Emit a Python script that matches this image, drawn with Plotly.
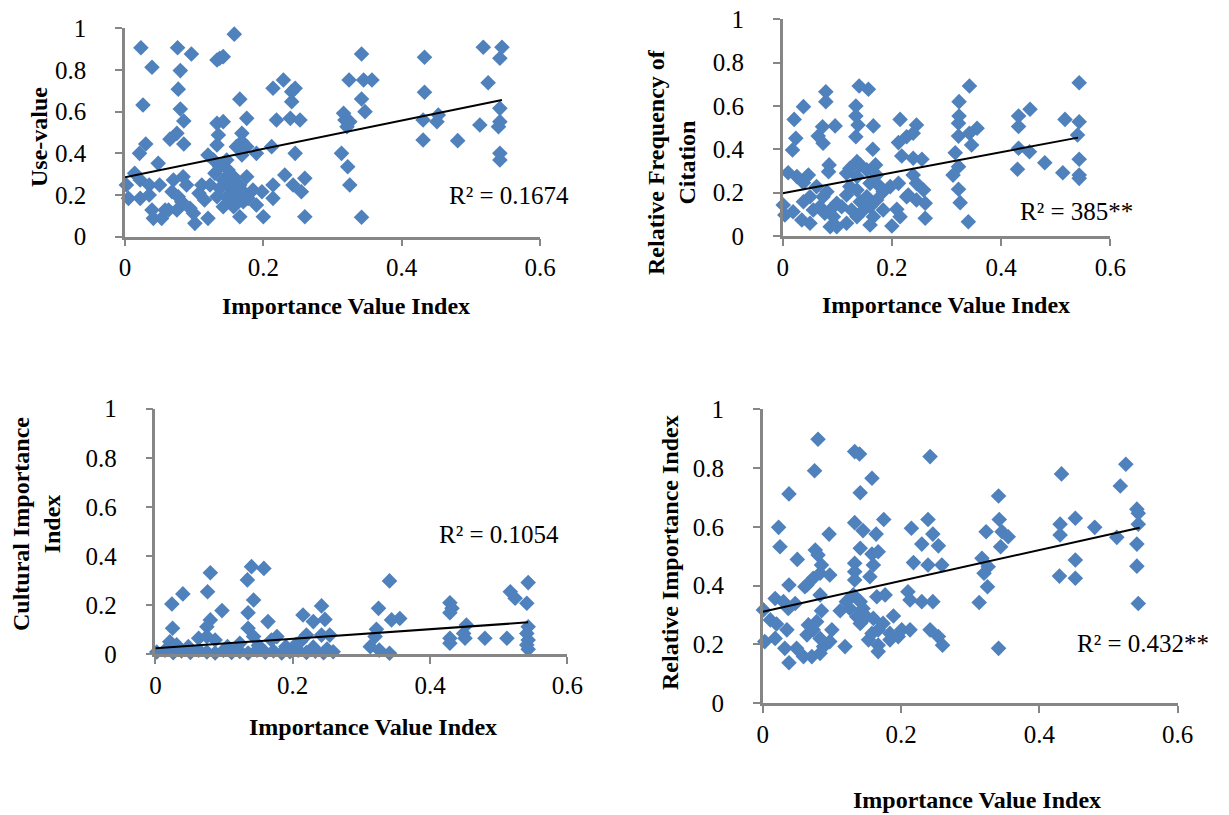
import plotly.graph_objects as go

# ---------------- data ----------------
# Panel 1: Use-value vs Importance Value Index
uv_ivi = [0.023,0.039,0.026,0.076,0.096,0.080,0.077,0.080,0.085,0.075,0.065,0.085,0.030,0.021,0.014,0.002,0.005,0.022,0.022,0.035,
          0.035,0.048,0.050,0.039,0.041,0.053,0.058,0.070,0.068,0.063,0.075,0.077,0.084,0.089,0.082,0.094,0.099,0.101,0.111,0.123,
          0.120,0.120,0.133,0.142,0.135,0.133,0.137,0.133,0.142,0.158,0.166,0.176,0.169,0.169,0.161,0.176,0.190,0.169,0.128,0.137,
          0.147,0.149,0.130,0.142,0.157,0.176,0.137,0.152,0.166,0.133,0.147,0.161,0.171,0.185,0.198,0.142,0.157,0.171,0.166,0.200,
          0.212,0.214,0.214,0.231,0.219,0.214,0.229,0.241,0.246,0.241,0.239,0.253,0.246,0.243,0.255,0.260,0.260,
          0.107,0.115,0.150,0.178,0.190,
          0.342,0.324,0.345,0.357,0.342,0.347,0.316,0.318,0.325,0.321,0.313,0.322,0.325,0.342,0.433,0.433,0.431,0.453,0.451,0.431,
          0.481,0.518,0.545,0.542,0.525,0.513,0.542,0.542,0.540,0.542,0.542]
uv_val = [0.907,0.813,0.632,0.907,0.877,0.797,0.708,0.613,0.555,0.496,0.468,0.445,0.445,0.400,0.304,0.248,0.184,0.272,0.184,0.248,
          0.200,0.352,0.248,0.128,0.088,0.088,0.128,0.272,0.216,0.128,0.128,0.192,0.288,0.248,0.168,0.136,0.112,0.064,0.248,0.248,
          0.088,0.392,0.544,0.552,0.488,0.440,0.856,0.848,0.864,0.972,0.660,0.568,0.496,0.456,0.432,0.432,0.400,0.392,0.368,0.336,
          0.368,0.320,0.304,0.272,0.288,0.288,0.232,0.240,0.248,0.192,0.192,0.200,0.216,0.224,0.216,0.144,0.144,0.168,0.096,0.096,
          0.432,0.248,0.184,0.296,0.560,0.712,0.752,0.696,0.712,0.648,0.568,0.560,0.400,0.248,0.216,0.280,0.096,
          0.208,0.176,0.168,0.184,0.152,
          0.877,0.752,0.752,0.752,0.661,0.600,0.592,0.560,0.552,0.528,0.400,0.336,0.248,0.093,0.861,0.693,0.560,0.584,0.552,0.464,
          0.461,0.909,0.909,0.856,0.739,0.536,0.616,0.552,0.528,0.400,0.368]

# Panel 2: Relative Frequency of Citation vs IVI
rfc_ivi = [0.140,0.157,0.079,0.079,0.038,0.134,0.134,0.021,0.215,0.073,0.096,0.138,0.166,0.245,0.065,0.024,0.134,0.227,0.239,0.074,
           0.212,0.018,0.165,0.218,0.239,0.255,0.085,0.084,0.136,0.170,0.142,0.010,0.026,0.047,0.038,0.117,0.123,0.154,0.172,0.239,
           0.212,0.245,0.258,0.062,0.050,0.038,0.074,0.081,0.123,0.136,0.160,0.178,0.197,0.184,0.227,0.001,0.004,0.019,0.035,0.050,
           0.056,0.068,0.077,0.087,0.093,0.087,0.099,0.108,0.117,0.126,0.136,0.142,0.148,0.154,0.160,0.166,0.160,0.172,0.184,0.200,
           0.209,0.215,0.230,0.245,0.261,0.261,0.117,0.099,0.136,
           0.342,0.323,0.323,0.322,0.322,0.342,0.356,0.346,0.316,0.322,0.312,0.322,0.325,0.340,0.453,0.432,0.432,0.432,0.452,0.430,
           0.480,0.513,0.517,0.543,0.543,0.540,0.543,0.543,0.543]
rfc_val = [0.692,0.677,0.666,0.620,0.597,0.600,0.554,0.538,0.538,0.504,0.508,0.512,0.508,0.512,0.461,0.451,0.458,0.458,0.474,0.428,
           0.431,0.397,0.400,0.369,0.359,0.354,0.328,0.297,0.343,0.328,0.328,0.292,0.274,0.281,0.246,0.289,0.312,0.305,0.281,0.281,
           0.243,0.243,0.212,0.228,0.181,0.158,0.181,0.204,0.228,0.212,0.243,0.228,0.228,0.204,0.181,0.143,0.097,0.112,0.074,0.059,
           0.120,0.135,0.105,0.120,0.089,0.043,0.043,0.135,0.059,0.120,0.089,0.158,0.120,0.181,0.135,0.089,0.051,0.166,0.120,0.046,
           0.123,0.089,0.189,0.166,0.151,0.082,0.189,0.151,0.274,
           0.692,0.620,0.554,0.520,0.461,0.474,0.497,0.420,0.384,0.320,0.281,0.216,0.154,0.066,0.585,0.554,0.505,0.405,0.389,0.308,
           0.338,0.292,0.538,0.707,0.527,0.466,0.354,0.281,0.266]

# Panel 3: Cultural Importance Index vs IVI
cii_ivi = [0.080,0.040,0.024,0.076,0.025,0.097,0.080,0.075,0.063,0.075,0.087,0.021,0.031,0.048,0.140,0.158,0.134,0.143,0.135,0.164,
           0.135,0.143,0.177,0.169,0.123,0.215,0.230,0.242,0.247,0.220,0.242,0.254,0.211,
           0.002,0.014,0.026,0.038,0.051,0.063,0.075,0.087,0.099,0.111,0.123,0.135,0.148,0.160,0.172,0.184,0.196,0.208,0.220,0.233,
           0.245,0.259,0.105,0.118,0.150,0.190,0.205,0.230,0.250,
           0.341,0.325,0.344,0.356,0.322,0.320,0.313,0.326,0.341,0.429,0.432,0.429,0.453,0.449,0.451,0.429,0.429,0.480,0.512,0.517,
           0.524,0.543,0.541,0.543,0.541,0.543,0.541,0.543]
cii_val = [0.331,0.245,0.204,0.254,0.105,0.177,0.139,0.111,0.064,0.071,0.057,0.050,0.037,0.030,0.356,0.349,0.302,0.220,0.168,0.132,
           0.105,0.071,0.071,0.057,0.044,0.159,0.132,0.196,0.141,0.077,0.077,0.077,0.050,
           0.008,0.015,0.005,0.012,0.006,0.016,0.008,0.004,0.014,0.006,0.010,0.004,0.016,0.007,0.012,0.004,0.009,0.015,0.006,0.011,
           0.005,0.009,0.030,0.022,0.035,0.030,0.040,0.028,0.020,
           0.298,0.186,0.139,0.145,0.101,0.071,0.030,0.016,0.003,0.209,0.186,0.168,0.118,0.084,0.064,0.064,0.044,0.064,0.064,0.254,
           0.227,0.291,0.207,0.111,0.084,0.057,0.037,0.019]

# Panel 4: Relative Importance Index vs IVI
rii_ivi = [0.080,0.075,0.038,0.133,0.140,0.158,0.141,0.242,0.023,0.025,0.096,0.133,0.145,0.175,0.164,0.141,0.215,0.239,0.246,0.230,
           0.254,0.050,0.076,0.080,0.085,0.083,0.097,0.073,0.064,0.038,0.133,0.133,0.133,0.158,0.167,0.160,0.155,0.218,0.239,0.259,
           0.018,0.030,0.037,0.047,0.001,0.011,0.020,0.003,0.018,0.035,0.032,0.038,0.049,0.059,0.071,0.083,0.088,0.097,0.064,0.073,
           0.083,0.066,0.078,0.085,0.083,0.100,0.061,0.119,0.112,0.121,0.126,0.131,0.136,0.141,0.145,0.141,0.150,0.153,0.160,0.165,
           0.177,0.167,0.174,0.167,0.167,0.158,0.189,0.184,0.184,0.196,0.201,0.213,0.210,0.213,0.230,0.246,0.242,0.254,0.260,
           0.341,0.342,0.323,0.346,0.355,0.344,0.317,0.326,0.320,0.325,0.313,0.341,0.432,0.430,0.452,0.430,0.480,0.452,0.429,0.452,
           0.512,0.517,0.525,0.541,0.543,0.543,0.541,0.541,0.543]
rii_val = [0.898,0.791,0.712,0.856,0.848,0.765,0.716,0.839,0.598,0.532,0.575,0.614,0.587,0.625,0.575,0.527,0.595,0.625,0.575,0.541,
           0.535,0.489,0.521,0.504,0.470,0.442,0.436,0.425,0.402,0.402,0.476,0.447,0.419,0.507,0.515,0.470,0.430,0.478,0.470,0.470,
           0.356,0.345,0.322,0.339,0.317,0.283,0.269,0.209,0.220,0.249,0.186,0.137,0.186,0.158,0.158,0.169,0.192,0.209,0.232,0.249,
           0.220,0.266,0.277,0.314,0.368,0.249,0.396,0.192,0.314,0.345,0.322,0.368,0.294,0.345,0.322,0.271,0.294,0.215,0.288,0.362,
           0.368,0.249,0.271,0.197,0.175,0.237,0.296,0.237,0.215,0.226,0.249,0.249,0.379,0.351,0.345,0.345,0.249,0.226,0.197,
           0.705,0.625,0.583,0.583,0.566,0.532,0.493,0.464,0.442,0.396,0.342,0.186,0.780,0.609,0.629,0.572,0.598,0.487,0.432,0.425,
           0.564,0.739,0.813,0.660,0.646,0.609,0.541,0.466,0.339]

# trend lines (end points)
uv_trend_x, uv_trend_y = [0.0, 0.545], [0.285, 0.656]
rfc_trend_x, rfc_trend_y = [0.0, 0.541], [0.197, 0.454]
cii_trend_x, cii_trend_y = [0.0, 0.543], [0.023, 0.129]
rii_trend_x, rii_trend_y = [0.0, 0.545], [0.311, 0.597]

r2_labels = ["R² = 0.1674", "R² = 385**", "R² = 0.1054", "R² = 0.432**"]
y_titles = ["Use-value", "Relative Frequency of<br>Citation", "Cultural Importance<br>Index", "Relative Importance Index"]
x_title = "Importance Value Index"

# ---------------- layout helpers ----------------
# the page body has an 8 px margin, so the figure is drawn 8 px in from the window corner
OFF = 8
W, H = 1229 - OFF, 815 - OFF
def fx(p): return (p - OFF) / W
def fy(p): return 1 - (p - OFF) / H

FONT = "Liberation Serif, Times New Roman, DejaVu Serif, serif"
BLUE = "#4F81BD"
GRAY = "#868686"

fig = go.Figure()
panels = [
    (uv_ivi, uv_val, uv_trend_x, uv_trend_y),
    (rfc_ivi, rfc_val, rfc_trend_x, rfc_trend_y),
    (cii_ivi, cii_val, cii_trend_x, cii_trend_y),
    (rii_ivi, rii_val, rii_trend_x, rii_trend_y),
]
for i, (xs, ys, tx, ty) in enumerate(panels, start=1):
    xa = "x" if i == 1 else f"x{i}"
    ya = "y" if i == 1 else f"y{i}"
    fig.add_trace(go.Scatter(x=xs, y=ys, mode="markers", xaxis=xa, yaxis=ya,
                             marker=dict(symbol="diamond", size=12, color=BLUE, line=dict(width=0)),
                             cliponaxis=False, showlegend=False, hoverinfo="skip"))
    fig.add_trace(go.Scatter(x=tx, y=ty, mode="lines", xaxis=xa, yaxis=ya,
                             line=dict(color="black", width=2), cliponaxis=False,
                             showlegend=False, hoverinfo="skip"))

# plot area pixel boxes (window pixels): (x at 0, x at 0.6, y at 0, y at 1)
boxes = [
    (125.0, 540.0, 236.7, 28.3),
    (782.7, 1110.3, 236.0, 19.3),
    (155.4, 567.3, 654.0, 408.7),
    (762.7, 1177.7, 703.0, 409.3),
]
axis_common = dict(showline=True, linecolor=GRAY, linewidth=2.5, ticks="outside", ticklen=7,
                   tickcolor=GRAY, tickwidth=2, showgrid=False, zeroline=False, automargin=False,
                   ticklabeloverflow="allow",
                   tickfont=dict(family=FONT, size=25, color="black"), tick0=0, dtick=0.2)
layout = {}
for i, (x0, x1, y0, y1) in enumerate(boxes, start=1):
    xk = "xaxis" if i == 1 else f"xaxis{i}"
    yk = "yaxis" if i == 1 else f"yaxis{i}"
    ya = "y" if i == 1 else f"y{i}"
    xa = "x" if i == 1 else f"x{i}"
    layout[xk] = dict(axis_common, domain=[fx(x0), fx(x1)], range=[0, 0.6], anchor=ya,
                      ticklabelstandoff=0)
    layout[yk] = dict(axis_common, domain=[fy(y0), fy(y1)], range=[0, 1], anchor=xa,
                      ticklabelstandoff=24)

annotations = []
# x titles
for (cx, cy) in [(346, 306), (946, 305), (373, 727), (977, 800)]:
    annotations.append(dict(text=f"<b>{x_title}</b>", x=fx(cx), y=fy(cy), xref="paper", yref="paper",
                            xanchor="center", yanchor="middle", showarrow=False,
                            font=dict(family=FONT, size=24, color="black")))
# y titles
for t, (cx, cy) in zip(y_titles, [(39, 137), (671, 162), (36, 524), (670, 553)]):
    annotations.append(dict(text=f"<b>{t}</b>", x=fx(cx), y=fy(cy), xref="paper", yref="paper",
                            xanchor="center", yanchor="middle", showarrow=False, textangle=-90,
                            font=dict(family=FONT, size=24, color="black")))
# R² labels
for t, (lx, cy) in zip(r2_labels, [(447, 195), (1018, 212), (437, 534), (1075, 643)]):
    annotations.append(dict(text=t, x=fx(lx), y=fy(cy), xref="paper", yref="paper",
                            xanchor="left", yanchor="middle", showarrow=False,
                            font=dict(family=FONT, size=25, color="black")))

fig.update_layout(width=W, height=H, margin=dict(l=0, r=0, t=0, b=0, autoexpand=False),
                  paper_bgcolor="white", plot_bgcolor="white",
                  annotations=annotations, **layout)
fig.write_html("out.html")
